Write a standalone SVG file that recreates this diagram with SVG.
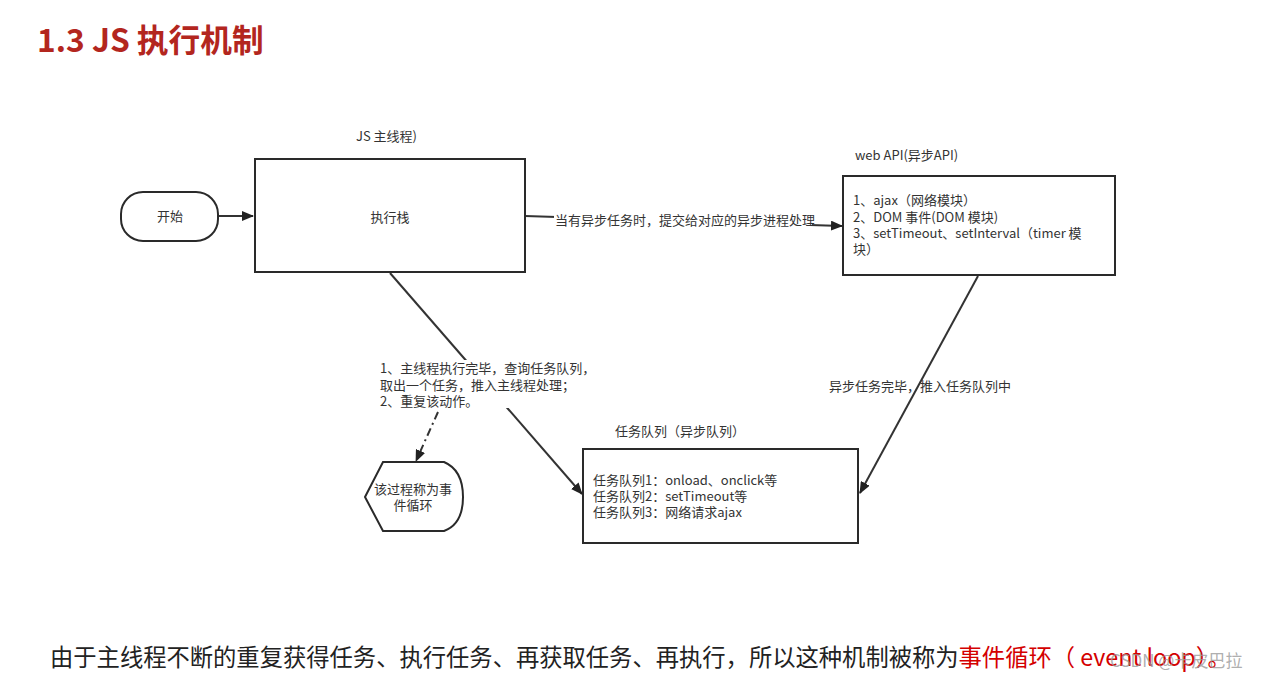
<svg xmlns="http://www.w3.org/2000/svg" width="1261" height="679" viewBox="0 0 1261 679">
<style>
.t{font-family:"Noto Sans CJK SC","Liberation Sans",sans-serif;font-size:13px;fill:#333}
.box{fill:#fff;stroke:#2a2a2a;stroke-width:2}
.ln{fill:none;stroke:#333;stroke-width:2}
.big{font-family:"Noto Sans CJK SC","Liberation Sans",sans-serif;font-size:23.3px;fill:#222}
</style>
<defs>
<marker id="ah" viewBox="0 0 12 10" refX="11" refY="5" markerWidth="12" markerHeight="10" markerUnits="userSpaceOnUse" orient="auto">
<path d="M0,0 L12,5 L0,10 z" fill="#222"/>
</marker>
</defs>
<rect width="1261" height="679" fill="#fff"/>
<text x="37" y="52" font-family="'Noto Sans CJK SC','Liberation Sans',sans-serif" font-size="31.7" font-weight="bold" fill="#b3261e">1.3 JS 执行机制</text>

<g id="connectors">
<line class="ln" x1="218" y1="216" x2="253" y2="216" marker-end="url(#ah)"/>
<line class="ln" x1="525" y1="216" x2="842" y2="226" marker-end="url(#ah)"/>
<line class="ln" x1="390" y1="273" x2="582" y2="494" marker-end="url(#ah)"/>
<line class="ln" x1="978" y1="276" x2="860" y2="493" marker-end="url(#ah)"/>
<line class="ln" x1="438" y1="412" x2="416" y2="461" stroke-dasharray="8,4,2,4" marker-end="url(#ah)"/>
<rect x="554" y="212" width="258" height="14" fill="#fff"/>
<text class="t" x="555" y="225">当有异步任务时，提交给对应的异步进程处理</text>
<rect x="378" y="360" width="230" height="48" fill="#fff"/>
<text class="t" x="380" y="373">1、主线程执行完毕，查询任务队列，</text>
<text class="t" x="380" y="390">取出一个任务，推入主线程处理；</text>
<text class="t" x="380" y="406">2、重复该动作。</text>
<text class="t" x="829" y="391">异步任务完毕，推入任务队列中</text>
</g>

<g id="start">
<rect class="box" x="121" y="192" width="97" height="49" rx="22"/>
<text class="t" x="170" y="221" text-anchor="middle">开始</text>
</g>

<g id="main-thread">
<text class="t" x="356" y="141">JS 主线程)</text>
<rect class="box" x="255" y="159" width="270" height="113"/>
<text class="t" x="390" y="222" text-anchor="middle">执行栈</text>
</g>

<g id="web-api">
<text class="t" x="855" y="160">web API(异步API)</text>
<rect class="box" x="843" y="176" width="272" height="99"/>
<text class="t" x="853" y="205">1、ajax（网络模块）</text>
<text class="t" x="853" y="222">2、DOM 事件(DOM 模块)</text>
<text class="t" x="853" y="238">3、setTimeout、setInterval（timer 模</text>
<text class="t" x="853" y="254">块）</text>
</g>

<g id="task-queue">
<text class="t" x="615" y="436">任务队列（异步队列）</text>
<rect class="box" x="583" y="449" width="275" height="94"/>
<text class="t" x="593" y="485">任务队列1：onload、onclick等</text>
<text class="t" x="593" y="501">任务队列2：setTimeout等</text>
<text class="t" x="593" y="517">任务队列3：网络请求ajax</text>
</g>

<g id="event-loop">
<path class="box" d="M365,497 L383,462 L444,462 Q463,470 463,497 Q463,524 444,531 L383,531 Z"/>
<text class="t" x="413" y="494" text-anchor="middle">该过程称为事</text>
<text class="t" x="413" y="510" text-anchor="middle">件循环</text>
</g>

<text class="big" x="50" y="666">由于主线程不断的重复获得任务、执行任务、再获取任务、再执行，所以这种机制被称为<tspan fill="#d40000">事件循环（ event loop）。</tspan></text>
<text x="1110" y="667" font-family="'Noto Sans CJK SC','Liberation Sans',sans-serif" font-size="17" fill="#999" fill-opacity="0.8">CSDN @卡皮巴拉</text>
</svg>
